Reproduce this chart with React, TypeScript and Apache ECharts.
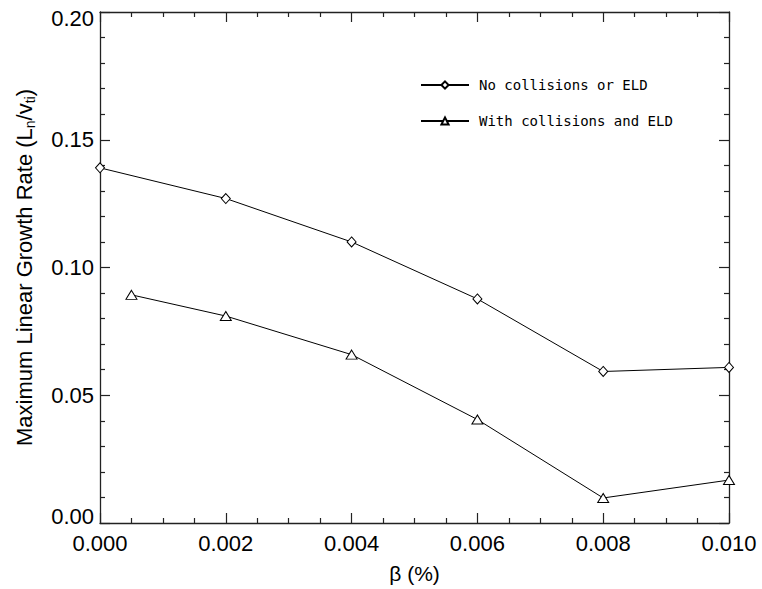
import React, { useEffect, useRef } from "react";
import * as echarts from "echarts";

const betaNoColl = [0.0, 0.002, 0.004, 0.006, 0.008, 0.01];
const rateNoColl = [0.139, 0.127, 0.110, 0.0877, 0.0593, 0.0609];
const betaColl = [0.0005, 0.002, 0.004, 0.006, 0.008, 0.01];
const rateColl = [0.0893, 0.081, 0.0659, 0.0405, 0.0098, 0.0168];
const seriesNames = ["No collisions or ELD", "With collisions and ELD"];

const labelFont = "'Liberation Sans', Arial, Helvetica, sans-serif";

export default function App() {
  const ref = useRef<HTMLDivElement>(null);
  useEffect(() => {
    if (!ref.current) return;
    const chart = echarts.init(ref.current, null, { renderer: "svg" });
    const axisLine = { show: true, onZero: false, lineStyle: { color: "#222", width: 1.3 } };
    const axisTick = { show: true, inside: true, length: 10, lineStyle: { color: "#222", width: 1.2 } };
    const minorTick = (n: number) => ({ show: true, splitNumber: n, length: 5, lineStyle: { color: "#222", width: 1.2 } });
    const yLabStyle = { fontFamily: labelFont, fontSize: 22, color: "#000" };
    chart.setOption({
      animation: false,
      backgroundColor: "#fff",
      grid: { left: 100, top: 12, right: 33, bottom: 64, containLabel: false },
      legend: {
        orient: "vertical",
        left: 420,
        top: 77,
        padding: 0,
        itemWidth: 48,
        itemHeight: 9,
        itemGap: 20,
        data: seriesNames,
        textStyle: { fontFamily: "'DejaVu Sans Mono', monospace", fontSize: 14, color: "#000", padding: [0, 0, 0, 5], lineHeight: 16 },
      },
      xAxis: [
        {
          type: "value", min: 0, max: 0.01, interval: 0.002,
          name: "β (%)", nameLocation: "middle", nameGap: 40,
          nameTextStyle: { fontFamily: labelFont, fontSize: 21, color: "#000" },
          axisLine, axisTick, minorTick: minorTick(4), splitLine: { show: false },
          axisLabel: { fontFamily: labelFont, fontSize: 22, color: "#000", margin: 9, formatter: (v: number) => v.toFixed(3) },
        },
        {
          type: "value", min: 0, max: 0.01, interval: 0.002, position: "top",
          axisLine, axisTick, minorTick: minorTick(4), splitLine: { show: false }, axisLabel: { show: false },
        },
      ],
      yAxis: [
        {
          type: "value", min: 0, max: 0.2, interval: 0.05,
          name: "Maximum Linear Growth Rate (L{sub|n}/v{sub|ti})", nameLocation: "middle", nameGap: 63,
          nameTextStyle: {
            fontFamily: labelFont, fontSize: 22, color: "#000", lineHeight: 26,
            rich: { sub: { fontFamily: labelFont, fontSize: 14, color: "#000", lineHeight: 14, verticalAlign: "bottom", padding: [9, 0, 0, 0] } },
          },
          axisLine, axisTick, minorTick: minorTick(5), splitLine: { show: false },
          axisLabel: {
            ...yLabStyle, margin: 6,
            formatter: (v: number) => {
              const s = v.toFixed(2);
              if (v <= 0) return `{lo|${s}}`;
              if (v >= 0.2) return `{hi|${s}}`;
              return s;
            },
            rich: {
              lo: { ...yLabStyle, padding: [0, 0, 14, 0] },
              hi: { ...yLabStyle, padding: [12, 0, 0, 0] },
            },
          },
        },
        {
          type: "value", min: 0, max: 0.2, interval: 0.05, position: "right",
          axisLine, axisTick, minorTick: minorTick(5), splitLine: { show: false }, axisLabel: { show: false },
        },
      ],
      series: [
        {
          name: seriesNames[0], type: "line",
          data: betaNoColl.map((x, i) => [x, rateNoColl[i]]),
          symbol: "diamond", symbolSize: [9, 10], showAllSymbol: true,
          lineStyle: { color: "#000", width: 1 },
          itemStyle: { color: "#fff", borderColor: "#000", borderWidth: 1 },
          clip: false,
        },
        {
          name: seriesNames[1], type: "line",
          data: betaColl.map((x, i) => [x, rateColl[i]]),
          symbol: "triangle", symbolSize: [11, 9], showAllSymbol: true,
          lineStyle: { color: "#000", width: 1 },
          itemStyle: { color: "#fff", borderColor: "#000", borderWidth: 1 },
          clip: false,
        },
      ],
    });
    return () => chart.dispose();
  }, []);
  return <div ref={ref} style={{ width: 762, height: 589, position: "absolute", left: 0, top: 0 }} />;
}
